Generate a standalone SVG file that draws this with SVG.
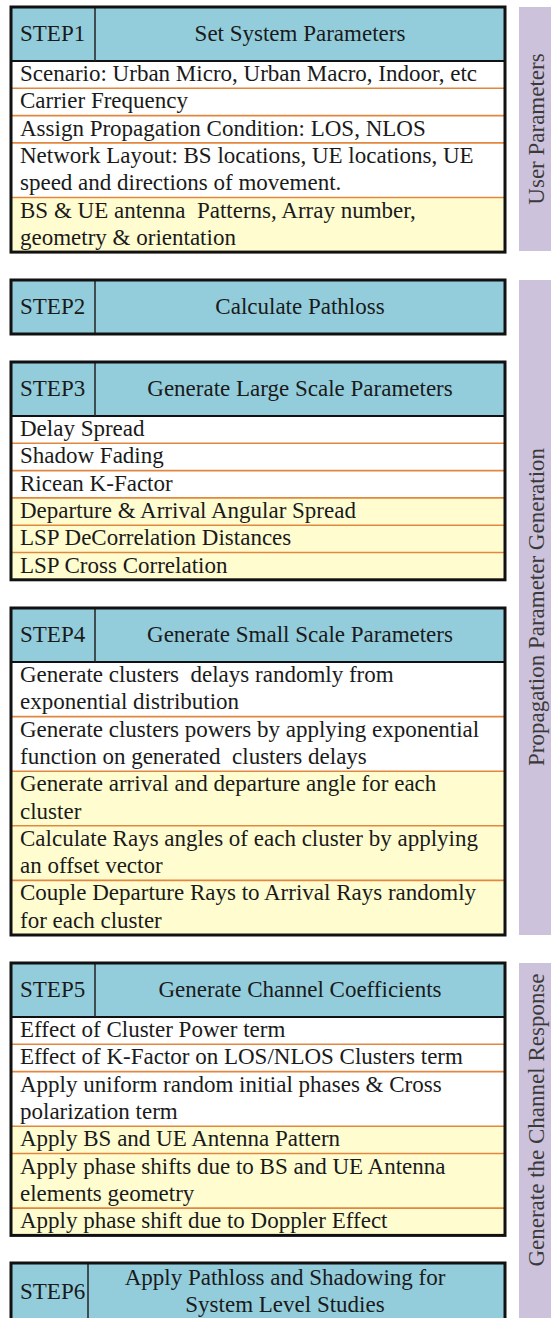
<svg xmlns="http://www.w3.org/2000/svg" width="551" height="1318" viewBox="0 0 551 1318" font-family="'Liberation Serif', Tinos, 'DejaVu Serif', serif">
<style>
text{font-family:'Liberation Serif', Tinos, 'Times New Roman', 'DejaVu Serif', serif}
.t{font-size:23px;fill:#1a1a1a;white-space:pre}
.c{text-anchor:middle}
.hd{fill:#93CDDC}
.w{fill:#FFFFFF}
.y{fill:#FFFDD0}
.sep{stroke:#E3863E;stroke-width:1.6;fill:none}
.frame{fill:none;stroke:#111;stroke-width:3}
.hline{stroke:#111;stroke-width:2;fill:none}
.div{stroke:#222;stroke-width:1.5;fill:none}
.bar{fill:#CCC2DB}
.bt{font-size:23px;fill:#3a3a3a;text-anchor:middle}
</style>
<rect width="551" height="1318" fill="#FFFFFF"/>

<g id="step1">
<rect class="hd" x="11" y="7" width="494" height="54"/>
<rect class="w" x="11" y="61" width="494" height="136.5"/>
<rect class="y" x="11" y="197.5" width="494" height="54.6"/>
<line class="sep" x1="11" y1="88.3" x2="505" y2="88.3"/>
<line class="sep" x1="11" y1="115.6" x2="505" y2="115.6"/>
<line class="sep" x1="11" y1="142.9" x2="505" y2="142.9"/>
<line class="sep" x1="11" y1="197.5" x2="505" y2="197.5"/>
<line class="hline" x1="11" y1="61" x2="505" y2="61"/>
<line class="div" x1="95" y1="7" x2="95" y2="61"/>
<rect class="frame" x="11" y="7" width="494" height="245.1"/>
<text class="t" x="20" y="41">STEP1</text>
<text class="t c" x="300" y="41">Set System Parameters</text>
<text class="t" x="20" y="81">Scenario: Urban Micro, Urban Macro, Indoor, etc</text>
<text class="t" x="20" y="108.3">Carrier Frequency</text>
<text class="t" x="20" y="135.6">Assign Propagation Condition: LOS, NLOS</text>
<text class="t" x="20" y="162.9">Network Layout: BS locations, UE locations, UE</text>
<text class="t" x="20" y="190.2">speed and directions of movement.</text>
<text class="t" x="20" y="217.5" xml:space="preserve">BS &amp; UE antenna  Patterns, Array number,</text>
<text class="t" x="20" y="244.8">geometry &amp; orientation</text>
</g>

<g id="step2">
<rect class="hd" x="11" y="280" width="494" height="54"/>
<line class="div" x1="95" y1="280" x2="95" y2="334"/>
<rect class="frame" x="11" y="280" width="494" height="54"/>
<text class="t" x="20" y="314">STEP2</text>
<text class="t c" x="300" y="314">Calculate Pathloss</text>
</g>

<g id="step3">
<rect class="hd" x="11" y="362" width="494" height="54"/>
<rect class="w" x="11" y="416" width="494" height="81.9"/>
<rect class="y" x="11" y="497.9" width="494" height="81.9"/>
<line class="sep" x1="11" y1="443.3" x2="505" y2="443.3"/>
<line class="sep" x1="11" y1="470.6" x2="505" y2="470.6"/>
<line class="sep" x1="11" y1="497.9" x2="505" y2="497.9"/>
<line class="sep" x1="11" y1="525.2" x2="505" y2="525.2"/>
<line class="sep" x1="11" y1="552.5" x2="505" y2="552.5"/>
<line class="hline" x1="11" y1="416" x2="505" y2="416"/>
<line class="div" x1="95" y1="362" x2="95" y2="416"/>
<rect class="frame" x="11" y="362" width="494" height="217.8"/>
<text class="t" x="20" y="396">STEP3</text>
<text class="t c" x="300" y="396">Generate Large Scale Parameters</text>
<text class="t" x="20" y="436">Delay Spread</text>
<text class="t" x="20" y="463.3">Shadow Fading</text>
<text class="t" x="20" y="490.6">Ricean K-Factor</text>
<text class="t" x="20" y="517.9">Departure &amp; Arrival Angular Spread</text>
<text class="t" x="20" y="545.2">LSP DeCorrelation Distances</text>
<text class="t" x="20" y="572.5">LSP Cross Correlation</text>
</g>

<g id="step4">
<rect class="hd" x="11" y="608" width="494" height="54"/>
<rect class="w" x="11" y="662" width="494" height="109.2"/>
<rect class="y" x="11" y="771.2" width="494" height="163.8"/>
<line class="sep" x1="11" y1="716.6" x2="505" y2="716.6"/>
<line class="sep" x1="11" y1="771.2" x2="505" y2="771.2"/>
<line class="sep" x1="11" y1="825.8" x2="505" y2="825.8"/>
<line class="sep" x1="11" y1="880.4" x2="505" y2="880.4"/>
<line class="hline" x1="11" y1="662" x2="505" y2="662"/>
<line class="div" x1="95" y1="608" x2="95" y2="662"/>
<rect class="frame" x="11" y="608" width="494" height="327"/>
<text class="t" x="20" y="642">STEP4</text>
<text class="t c" x="300" y="642">Generate Small Scale Parameters</text>
<text class="t" x="20" y="682" xml:space="preserve">Generate clusters  delays randomly from</text>
<text class="t" x="20" y="709.3">exponential distribution</text>
<text class="t" x="20" y="736.6">Generate clusters powers by applying exponential</text>
<text class="t" x="20" y="763.9" xml:space="preserve">function on generated  clusters delays</text>
<text class="t" x="20" y="791.2">Generate arrival and departure angle for each</text>
<text class="t" x="20" y="818.5">cluster</text>
<text class="t" x="20" y="845.8">Calculate Rays angles of each cluster by applying</text>
<text class="t" x="20" y="873.1">an offset vector</text>
<text class="t" x="20" y="900.4">Couple Departure Rays to Arrival Rays randomly</text>
<text class="t" x="20" y="927.7">for each cluster</text>
</g>

<g id="step5">
<rect class="hd" x="11" y="963" width="494" height="54"/>
<rect class="w" x="11" y="1017" width="494" height="109.2"/>
<rect class="y" x="11" y="1126.2" width="494" height="109.2"/>
<line class="sep" x1="11" y1="1044.3" x2="505" y2="1044.3"/>
<line class="sep" x1="11" y1="1071.6" x2="505" y2="1071.6"/>
<line class="sep" x1="11" y1="1126.2" x2="505" y2="1126.2"/>
<line class="sep" x1="11" y1="1153.5" x2="505" y2="1153.5"/>
<line class="sep" x1="11" y1="1208.1" x2="505" y2="1208.1"/>
<line class="hline" x1="11" y1="1017" x2="505" y2="1017"/>
<line class="div" x1="95" y1="963" x2="95" y2="1017"/>
<rect class="frame" x="11" y="963" width="494" height="272.4"/>
<text class="t" x="20" y="997">STEP5</text>
<text class="t c" x="300" y="997">Generate Channel Coefficients</text>
<text class="t" x="20" y="1037">Effect of Cluster Power term</text>
<text class="t" x="20" y="1064.3">Effect of K-Factor on LOS/NLOS Clusters term</text>
<text class="t" x="20" y="1091.6">Apply uniform random initial phases &amp; Cross</text>
<text class="t" x="20" y="1118.9">polarization term</text>
<text class="t" x="20" y="1146.2">Apply BS and UE Antenna Pattern</text>
<text class="t" x="20" y="1173.5">Apply phase shifts due to BS and UE Antenna</text>
<text class="t" x="20" y="1200.8">elements geometry</text>
<text class="t" x="20" y="1228.1">Apply phase shift due to Doppler Effect</text>
</g>

<g id="step6">
<rect class="hd" x="11" y="1263" width="494" height="60"/>
<line class="div" x1="88" y1="1263" x2="88" y2="1320"/>
<rect class="frame" x="11" y="1263" width="494" height="60"/>
<text class="t" x="20" y="1299">STEP6</text>
<text class="t c" x="285" y="1285">Apply Pathloss and Shadowing for</text>
<text class="t c" x="285" y="1312">System Level Studies</text>
</g>

<g id="bar-user-parameters">
<rect class="bar" x="519" y="7" width="32" height="244"/>
<text class="bt" transform="translate(544,129) rotate(-90)">User Parameters</text>
</g>

<g id="bar-propagation">
<rect class="bar" x="519" y="280" width="32" height="655"/>
<text class="bt" transform="translate(544,607) rotate(-90)">Propagation Parameter Generation</text>
</g>

<g id="bar-channel-response">
<rect class="bar" x="519" y="963" width="32" height="360"/>
<text class="bt" transform="translate(544,1120) rotate(-90)">Generate the Channel Response</text>
</g>

<g id="connectors"/>
</svg>
